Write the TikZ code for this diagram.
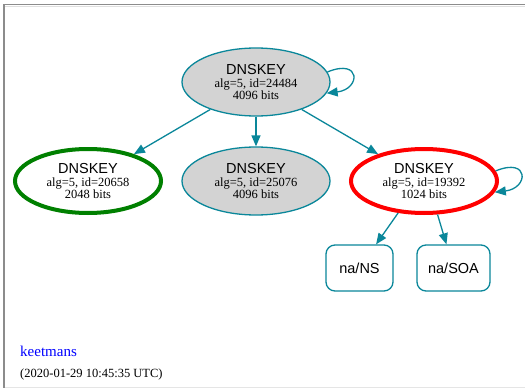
\documentclass[tikz,border=0pt]{standalone}
\usepackage{fontspec}
\setmainfont{Liberation Serif}
\newfontfamily\headfont{Liberation Sans}
\usetikzlibrary{shapes.geometric,arrows.meta}
\definecolor{teal}{RGB}{10,135,154}
\definecolor{keyfill}{RGB}{211,211,211}
\definecolor{okgreen}{RGB}{0,128,0}
\tikzset{
  key/.style={ellipse, draw=teal, line width=1.3pt, minimum width=148pt,
    minimum height=68pt, inner sep=0pt, align=center,
    font=\fontsize{12.5}{12}\selectfont},
  graykey/.style={key, fill=keyfill},
  goodkey/.style={key, draw=okgreen, line width=4pt, minimum width=146pt, minimum height=64pt},
  badkey/.style={key, draw=red, line width=4pt, minimum width=146pt, minimum height=64pt},
  rrset/.style={draw=teal, line width=1.3pt, rounded corners=9pt, minimum height=46pt,
    inner sep=0pt, font=\headfont\fontsize{14.5}{14.5}\selectfont},
  edge/.style={draw=teal, line width=1.3pt, -{Triangle[length=11pt,width=9pt]}},
}
\newcommand{\keylabel}[2]{{\headfont\fontsize{14.5}{14}\selectfont DNSKEY}\\[1.5pt]alg=5, id=#1\\#2 bits}
\begin{document}
\begin{tikzpicture}[x=1pt,y=-1pt]
  \useasboundingbox (0,0) rectangle (525,388);
  \fill[white] (0,0) rectangle (525,388);
  % page frame
  \draw[gray!90, line width=1.4pt] (4,388) -- (4,4.5) -- (525,4.5);
  \draw[gray!25, line width=1pt] (5,6.5) -- (525,6.5);
  \draw[gray!20, line width=1pt] (5,387) -- (525,387);

  % keys
  \node[graykey] (ksk) at (256,82) {\keylabel{24484}{4096}};
  \node[goodkey] (zskA) at (88,181) {\keylabel{20658}{2048}};
  \node[graykey] (zskB) at (256,181) {\keylabel{25076}{4096}};
  \node[badkey] (zskC) at (424,181) {\keylabel{19392}{1024}};

  % signed record sets
  \node[rrset, minimum width=67pt] (ns) at (359.5,268) {na/NS};
  \node[rrset, minimum width=73pt] (soa) at (453.5,268) {na/SOA};

  % signatures
  \draw[edge] (ksk.8) .. controls +(34,-14) and +(34,-4) .. (ksk.-9);
  \draw[edge] (zskC.8) .. controls +(34,-14) and +(34,-4) .. (zskC.-9);
  \draw[edge] (ksk.-149) -- (zskA);
  \draw[edge] (ksk) -- (zskB);
  \draw[edge] (ksk.-31) -- (zskC);
  \draw[edge] (zskC.-129) -- (ns);
  \draw[edge] (zskC.-68) -- (soa);

  % footer
  \node[anchor=base west, text=blue, font=\fontsize{15}{15}\selectfont, inner sep=0pt] (zone) at (20,356) {keetmans};
  \node[anchor=base west, font=\fontsize{12.5}{12.5}\selectfont, inner sep=0pt] (stamp) at (20,377) {(2020-01-29 10:45:35 UTC)};
\end{tikzpicture}
\end{document}
